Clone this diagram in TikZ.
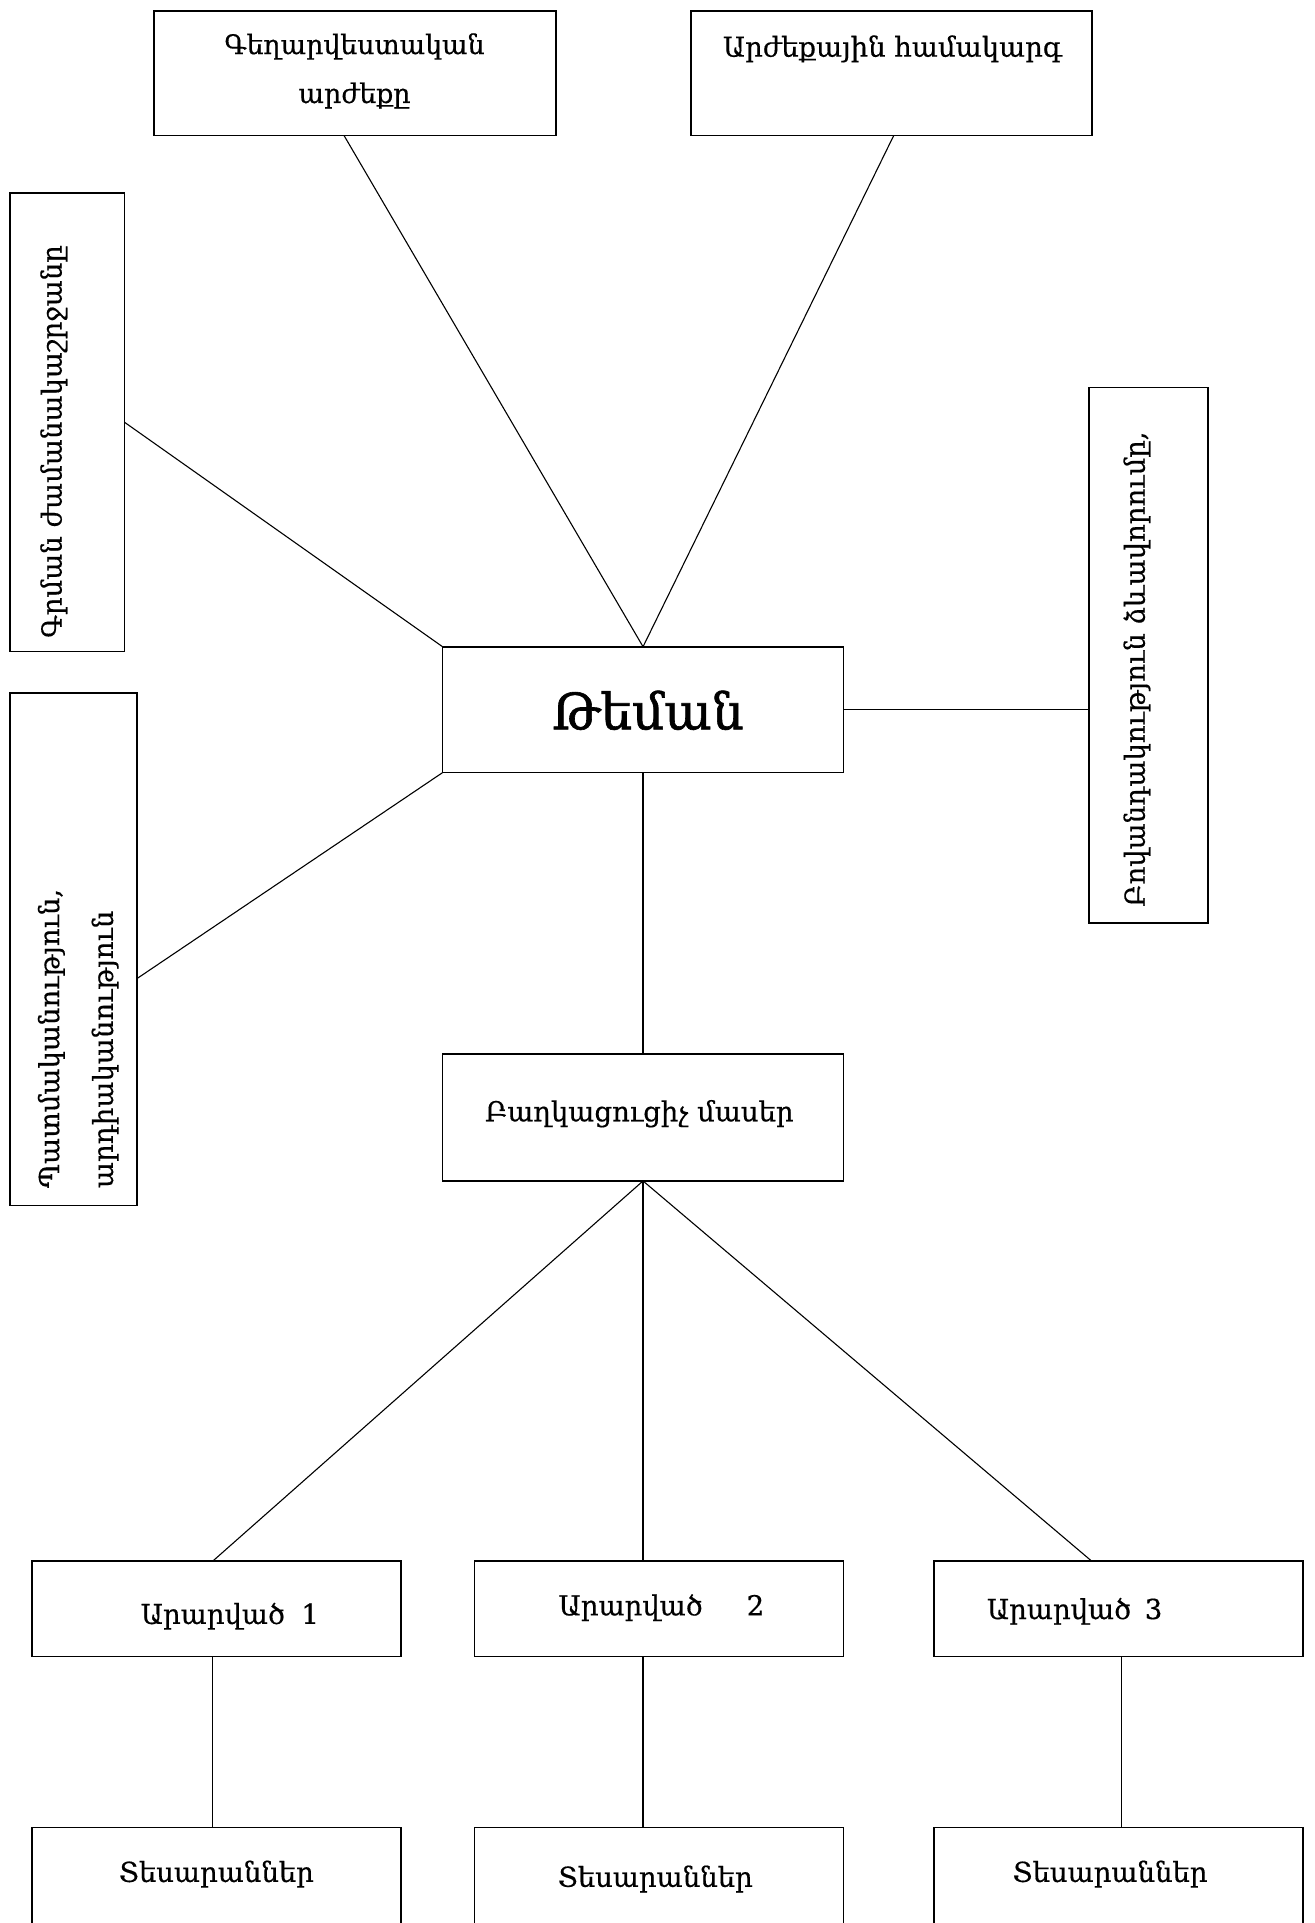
\documentclass[tikz,border=0pt]{standalone}
\usepackage{fontspec}
\setmainfont[FakeBold=0.5]{DejaVu Serif}
\newfontfamily\bigfont[FakeBold=1.2]{DejaVu Serif}
\begin{document}
\begin{tikzpicture}[x=1pt,y=-1pt,
  box/.style={draw,line width=1.3pt,inner sep=0pt,outer sep=0pt,rectangle},
  conn/.style={line width=0.9pt},
  txt/.style={inner sep=0pt,font=\fontsize{22.5}{40}\selectfont,align=center},
  vtxt/.style={inner sep=0pt,font=\fontsize{22.5}{44}\selectfont,align=left,rotate=90,anchor=west}]
\useasboundingbox (0,0) rectangle (1075,1573);
% boxes
\node[box,minimum width=329pt,minimum height=102pt] (tl) at (290.5,60) {};
\node[box,minimum width=328pt,minimum height=102pt] (tr) at (729,60) {};
\node[box,minimum width=94pt,minimum height=375pt] (l1) at (55,345.5) {};
\node[box,minimum width=104pt,minimum height=419pt] (l2) at (60,776.5) {};
\node[box,minimum width=328pt,minimum height=103pt] (th) at (526,580.5) {};
\node[box,minimum width=97pt,minimum height=438pt] (r) at (939.5,536) {};
\node[box,minimum width=328pt,minimum height=104pt] (bm) at (526,914) {};
\node[box,minimum width=302pt,minimum height=78pt] (a1) at (177,1316) {};
\node[box,minimum width=302pt,minimum height=78pt] (a2) at (539,1316) {};
\node[box,minimum width=302pt,minimum height=78pt] (a3) at (915,1316) {};
\node[box,minimum width=302pt,minimum height=104pt] (t1) at (177,1547) {};
\node[box,minimum width=302pt,minimum height=104pt] (t2) at (539,1547) {};
\node[box,minimum width=302pt,minimum height=104pt] (t3) at (915,1547) {};
% texts
\node[txt,font=\fontsize{22}{40}\selectfont] (tltext) at (290,58) {Գեղարվեստական\\արժեքը};
\node[txt] (trtext) at (730,40) {Արժեքային համակարգ};
\node[txt,font=\bigfont\fontsize{41}{44}\selectfont] (thtext) at (530,581) {Թեման};
\node[txt] (bmtext) at (523,911) {Բաղկացուցիչ մասեր};
\node[txt] (a1text) at (188,1322) {Արարված\hspace{0.6em}1};
\node[txt] (a2text) at (541,1315) {Արարված\hspace{1.6em}2};
\node[txt] (a3text) at (879,1318) {Արարված\hspace{0.5em}3};
\node[txt] (t1text) at (177,1533) {Տեսարաններ};
\node[txt] (t2text) at (536,1537) {Տեսարաններ};
\node[txt] (t3text) at (908,1533) {Տեսարաններ};
\node[vtxt] (l1text) at (44,522) {Գրման ժամանակաշրջանը};
\node[vtxt] (l2text) at (64,972) {Պատմականություն,\\արդիականություն};
\node[vtxt] (rtext) at (930,742) {Բովանդակություն ձևավորումը,};
% connectors
\draw[conn] ([xshift=-9pt]tl.south) -- (th.north);
\draw[conn] ([xshift=2pt]tr.south) -- (th.north);
\draw[conn] (l1.east) -- (th.north west);
\draw[conn] ([yshift=-24pt]l2.east) -- (th.south west);
\draw[conn] (th.east) -- (th.east -| r.west);
\draw[conn] (th.south) -- (bm.north);
\draw[conn] (bm.south) -- ([xshift=-3pt]a1.north);
\draw[conn] (bm.south) -- (bm.south |- a2.north);
\draw[conn] (bm.south) -- ([xshift=-22pt]a3.north);
\draw[conn] ([xshift=-3pt]a1.south) -- ([xshift=-3pt]t1.north);
\draw[conn] (a2.south -| bm.south) -- (t2.north -| bm.south);
\draw[conn] ([xshift=2pt]a3.south) -- ([xshift=2pt]t3.north);
\end{tikzpicture}
\end{document}
